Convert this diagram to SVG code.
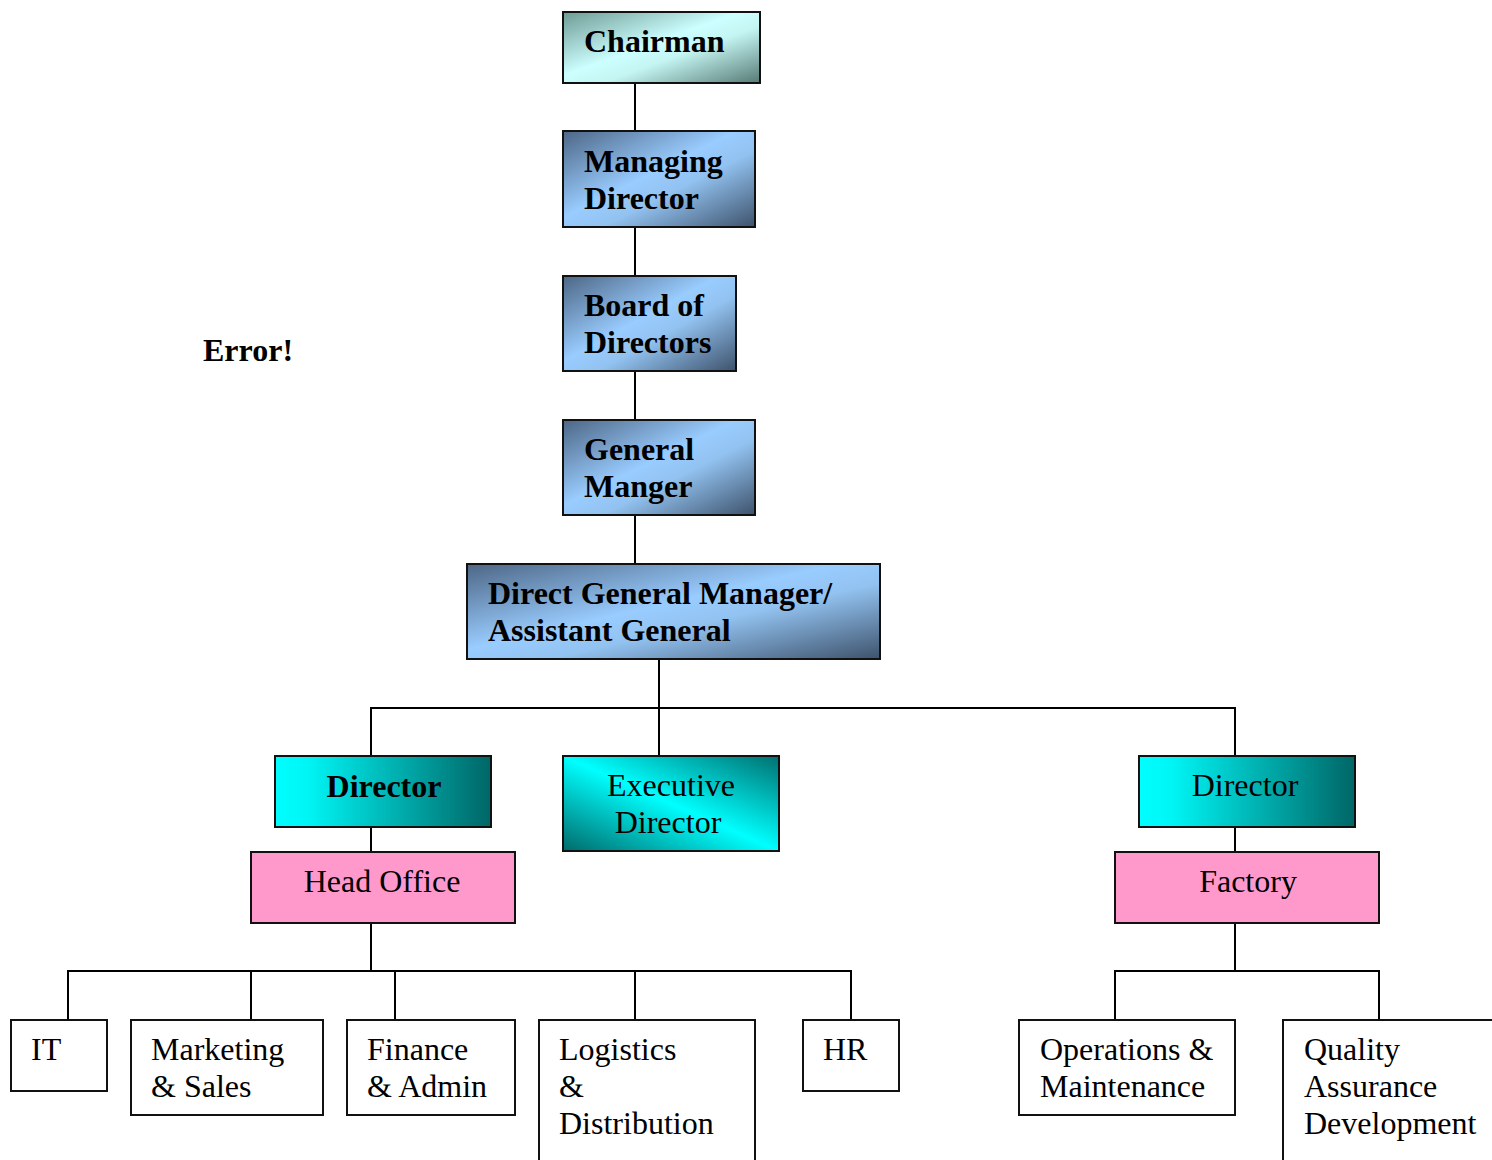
<svg xmlns="http://www.w3.org/2000/svg" width="1492" height="1160" viewBox="0 0 1492 1160">
<style>
.box{stroke:#111;stroke-width:2}
.plain{fill:#fff}
.pink{fill:#ff99cc}
.t{font-family:"Liberation Serif","Times New Roman",serif;font-size:32px;fill:#000}
.b{font-weight:bold}
.c{text-anchor:middle}
.ln{stroke:#000;stroke-width:2;fill:none}
</style>
<defs>
<linearGradient id="gBlue" x1="0" y1="0" x2="1" y2="1">
<stop offset="0" stop-color="#4d6685"/>
<stop offset="0.45" stop-color="#99ccff"/>
<stop offset="0.6" stop-color="#92c2f0"/>
<stop offset="1" stop-color="#3e526b"/>
</linearGradient>
<linearGradient id="gChair" x1="0" y1="0" x2="1" y2="1">
<stop offset="0" stop-color="#6e9a94"/>
<stop offset="0.45" stop-color="#ccffff"/>
<stop offset="0.6" stop-color="#c4f5f2"/>
<stop offset="1" stop-color="#577a75"/>
</linearGradient>
<linearGradient id="gDir" x1="0" y1="0" x2="1" y2="0">
<stop offset="0" stop-color="#00ffff"/>
<stop offset="0.15" stop-color="#00f5f5"/>
<stop offset="1" stop-color="#006666"/>
</linearGradient>
<linearGradient id="gExec" x1="1" y1="0" x2="0" y2="1">
<stop offset="0" stop-color="#007070"/>
<stop offset="0.5" stop-color="#00ffff"/>
<stop offset="1" stop-color="#006a6a"/>
</linearGradient>
</defs>
<g id="connectors">
<line class="ln" x1="635" y1="83" x2="635" y2="564"/>
<line class="ln" x1="659" y1="659" x2="659" y2="756"/>
<line class="ln" x1="371" y1="708" x2="1235" y2="708"/>
<line class="ln" x1="371" y1="707" x2="371" y2="756"/>
<line class="ln" x1="1235" y1="707" x2="1235" y2="756"/>
<line class="ln" x1="371" y1="827" x2="371" y2="852"/>
<line class="ln" x1="1235" y1="827" x2="1235" y2="852"/>
<line class="ln" x1="371" y1="923" x2="371" y2="971"/>
<line class="ln" x1="68" y1="971" x2="851" y2="971"/>
<line class="ln" x1="68" y1="970" x2="68" y2="1020"/>
<line class="ln" x1="251" y1="971" x2="251" y2="1020"/>
<line class="ln" x1="395" y1="971" x2="395" y2="1020"/>
<line class="ln" x1="635" y1="971" x2="635" y2="1020"/>
<line class="ln" x1="851" y1="970" x2="851" y2="1020"/>
<line class="ln" x1="1235" y1="923" x2="1235" y2="971"/>
<line class="ln" x1="1115" y1="971" x2="1379" y2="971"/>
<line class="ln" x1="1115" y1="970" x2="1115" y2="1020"/>
<line class="ln" x1="1379" y1="970" x2="1379" y2="1020"/>
</g>
<g id="error"><text class="t b" x="203" y="361">Error!</text></g>
<g id="chairman"><rect class="box" x="563" y="12" width="197" height="71" fill="url(#gChair)"/><text class="t b" x="584" y="52">Chairman</text></g>
<g id="managing-director"><rect class="box" x="563" y="131" width="192" height="96" fill="url(#gBlue)"/><text class="t b" x="584" y="172">Managing</text><text class="t b" x="584" y="209">Director</text></g>
<g id="board"><rect class="box" x="563" y="276" width="173" height="95" fill="url(#gBlue)"/><text class="t b" x="584" y="316">Board of</text><text class="t b" x="584" y="353">Directors</text></g>
<g id="general-manager"><rect class="box" x="563" y="420" width="192" height="95" fill="url(#gBlue)"/><text class="t b" x="584" y="460">General</text><text class="t b" x="584" y="497">Manger</text></g>
<g id="dgm"><rect class="box" x="467" y="564" width="413" height="95" fill="url(#gBlue)"/><text class="t b" x="488" y="604">Direct General Manager/</text><text class="t b" x="488" y="641">Assistant General</text></g>
<g id="director-left"><rect class="box" x="275" y="756" width="216" height="71" fill="url(#gDir)"/><text class="t b c" x="384" y="797">Director</text></g>
<g id="executive-director"><rect class="box" x="563" y="756" width="216" height="95" fill="url(#gExec)"/><text class="t c" x="671" y="796">Executive</text><text class="t c" x="668" y="833">Director</text></g>
<g id="director-right"><rect class="box" x="1139" y="756" width="216" height="71" fill="url(#gDir)"/><text class="t c" x="1245" y="796">Director</text></g>
<g id="head-office"><rect class="box pink" x="251" y="852" width="264" height="71"/><text class="t c" x="382" y="892">Head Office</text></g>
<g id="factory"><rect class="box pink" x="1115" y="852" width="264" height="71"/><text class="t c" x="1248" y="892">Factory</text></g>
<g id="it"><rect class="box plain" x="11" y="1020" width="96" height="71"/><text class="t" x="31" y="1060">IT</text></g>
<g id="marketing"><rect class="box plain" x="131" y="1020" width="192" height="95"/><text class="t" x="151" y="1060">Marketing</text><text class="t" x="151" y="1097">&amp; Sales</text></g>
<g id="finance"><rect class="box plain" x="347" y="1020" width="168" height="95"/><text class="t" x="367" y="1060">Finance</text><text class="t" x="367" y="1097">&amp; Admin</text></g>
<g id="logistics"><rect class="box plain" x="539" y="1020" width="216" height="160"/><text class="t" x="559" y="1060">Logistics</text><text class="t" x="559" y="1097">&amp;</text><text class="t" x="559" y="1134">Distribution</text></g>
<g id="hr"><rect class="box plain" x="803" y="1020" width="96" height="71"/><text class="t" x="823" y="1060">HR</text></g>
<g id="operations"><rect class="box plain" x="1019" y="1020" width="216" height="95"/><text class="t" x="1040" y="1060">Operations &amp;</text><text class="t" x="1040" y="1097">Maintenance</text></g>
<g id="quality"><rect class="box plain" x="1283" y="1020" width="230" height="160"/><text class="t" x="1304" y="1060">Quality</text><text class="t" x="1304" y="1097">Assurance</text><text class="t" x="1304" y="1134">Development</text></g>
</svg>
